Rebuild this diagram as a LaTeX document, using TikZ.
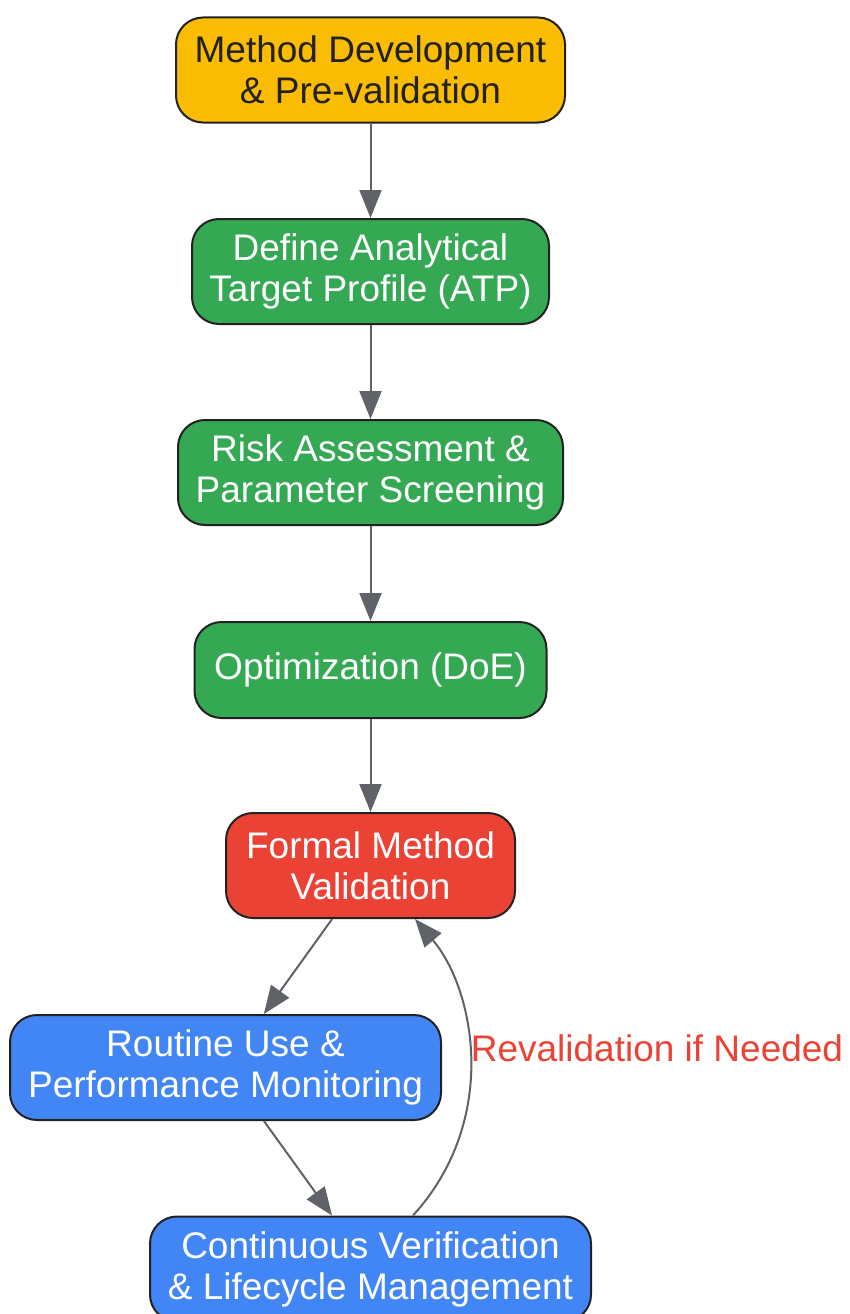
\documentclass[tikz,border=0pt]{standalone}
\usepackage{fontspec}
\setmainfont{Liberation Sans}
\usepackage{xcolor}
\usetikzlibrary{arrows.meta}

\definecolor{stageyellow}{HTML}{FBBC04}
\definecolor{stagegreen}{HTML}{34A853}
\definecolor{stagered}{HTML}{EA4335}
\definecolor{stageblue}{HTML}{4285F4}
\definecolor{edgegray}{HTML}{5F6368}
\definecolor{borderdark}{HTML}{222222}

\begin{document}
\begin{tikzpicture}[x=1pt,y=-1pt]
    \tikzstyle{stage} = [draw=borderdark,line width=2pt,rounded corners=27pt,align=center,inner sep=0pt,minimum height=105pt,text=white,font=\fontsize{37}{41}\selectfont]
    \tikzstyle{flow} = [draw=edgegray,line width=2pt,-{Triangle[length=28pt,width=22pt]}]
    \useasboundingbox (0,0) rectangle (849,1314);

    \node[stage,fill=stageyellow,text=borderdark,minimum width=389pt] at (370.5,70) (dev) {Method Development\\\& Pre-validation};
    \node[stage,fill=stagegreen,minimum width=357pt] at (370.5,271.5) (atp) {Define Analytical\\Target Profile (ATP)};
    \node[stage,fill=stagegreen,minimum width=385pt] at (370.5,472.5) (risk) {Risk Assessment \&\\Parameter Screening};
    \node[stage,fill=stagegreen,minimum width=352pt,minimum height=96pt] at (370.5,670) (doe) {Optimization (DoE)};
    \node[stage,fill=stagered,minimum width=289pt] at (370.5,865.5) (formal) {Formal Method\\Validation};
    \node[stage,fill=stageblue,minimum width=431pt] at (225.5,1067.5) (routine) {Routine Use \&\\Performance Monitoring};
    \node[stage,fill=stageblue,minimum width=441pt] at (370.5,1269) (cont) {Continuous Verification\\\& Lifecycle Management};

    \draw[flow] (dev) -- (atp);
    \draw[flow] (atp) -- (risk);
    \draw[flow] (risk) -- (doe);
    \draw[flow] (doe) -- (formal);
    \draw[flow] (formal) -- (routine);
    \draw[flow] (routine) -- (cont);

    % loop back when the method drifts
    \draw[flow] ([xshift=42.5pt]cont.north) .. controls (500,1120) and (475,990) .. ([xshift=44.5pt]formal.south);
    \node[text=stagered,font=\fontsize{37}{41}\selectfont] at (657,1048) (reval) {Revalidation if Needed};
\end{tikzpicture}
\end{document}
